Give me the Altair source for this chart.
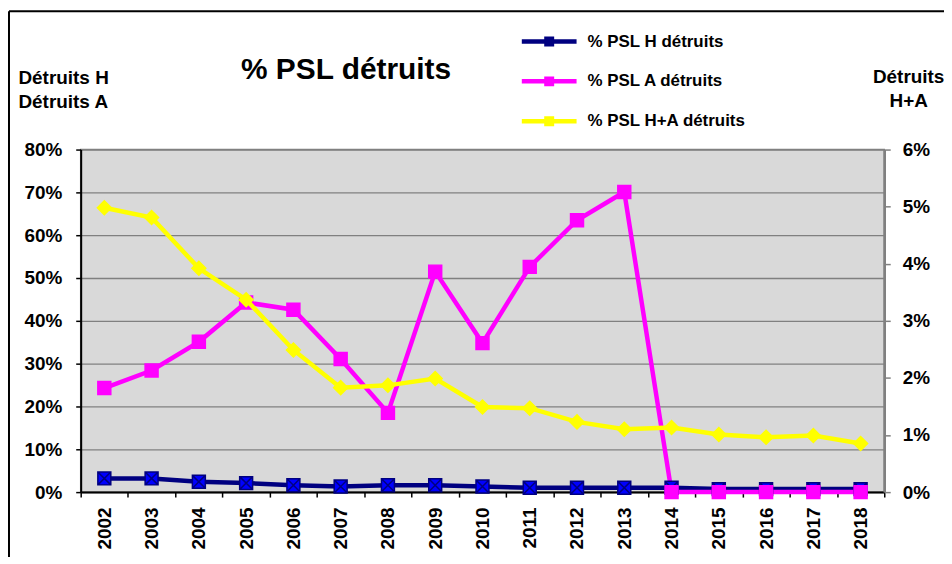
import altair as alt
import pandas as pd

# ---------------- data ----------------
years = list(range(2002, 2019))
series_names = ["% PSL H détruits", "% PSL A détruits", "% PSL H+A détruits"]

pct_h = [0.032, 0.032, 0.024, 0.021, 0.016, 0.013, 0.016, 0.016, 0.013,
         0.010, 0.010, 0.010, 0.010, 0.007, 0.007, 0.007, 0.007]
pct_a = [0.243, 0.284, 0.351, 0.443, 0.426, 0.311, 0.185, 0.515, 0.348,
         0.526, 0.635, 0.701, 0.0, 0.0, 0.0, 0.0, 0.0]
pct_ha = [0.0498, 0.0481, 0.0392, 0.0337, 0.0249, 0.0183, 0.0187, 0.0199, 0.0149,
          0.0147, 0.0123, 0.0110, 0.0113, 0.0101, 0.0096, 0.0099, 0.0085]

left_ticks = [0, 0.1, 0.2, 0.3, 0.4, 0.5, 0.6, 0.7, 0.8]
right_ticks = [0, 0.01, 0.02, 0.03, 0.04, 0.05, 0.06]

line_colors = ["#000080", "#FF00FF", "#FFFF00"]
marker_fills = ["#0000FF", "#FF00FF", "#FFFF00"]
marker_shapes = ["M-1,-1H1V1H-1Z M-1,-1L1,1 M1,-1L-1,1", "square", "diamond"]
marker_sizes = [169, 169, 196]

FONT = "Liberation Sans"
W, H = 807, 344

h_df = pd.DataFrame({"year": years, "series": series_names[0], "value": pct_h})
a_df = pd.DataFrame({"year": years, "series": series_names[1], "value": pct_a})
ha_df = pd.DataFrame({"year": years, "series": series_names[2], "value": pct_ha})
left_df = pd.concat([h_df, a_df], ignore_index=True)

# ---------------- encodings ----------------
x_enc = alt.X(
    "year:O", title=None, bandPosition=0.5,
    scale=alt.Scale(type="band", paddingInner=0, paddingOuter=0),
    axis=alt.Axis(tickBand="extent", labelAngle=-90, labelFont=FONT, labelFontSize=19,
                  labelFontWeight="bold", labelColor="black", labelPadding=10,
                  domainColor="black", domainWidth=2, tickColor="black", tickWidth=1.5,
                  tickSize=5, grid=False),
)

color_enc = alt.Color(
    "series:N", scale=alt.Scale(domain=series_names, range=line_colors),
    legend=alt.Legend(title=None, orient="none", legendX=462, legendY=-117,
                      direction="vertical",
                      symbolType="M-5,0L5,0M-0.5,-0.5L0.5,-0.5L0.5,0.5L-0.5,0.5Z",
                      symbolSize=121, symbolStrokeWidth=4.5, labelOffset=30, rowPadding=15,
                      padding=0, labelFont=FONT, labelFontSize=17, labelFontWeight="bold",
                      labelColor="black"),
)

y_left = alt.Y(
    "value:Q", scale=alt.Scale(domain=[0, 0.8], nice=False),
    axis=alt.Axis(values=left_ticks, format=".0%", title=["Détruits H", "Détruits A"],
                  titleAngle=0, titleAlign="left", titleBaseline="alphabetic",
                  titleX=-63, titleY=-66, titleLineHeight=23.3,
                  titleFont=FONT, titleFontSize=19, titleFontWeight="bold", titleColor="black",
                  grid=True, gridColor="#808080", gridWidth=1.3,
                  domainColor="black", domainWidth=2, tickColor="black", tickSize=5, tickWidth=1.5,
                  labelPadding=14, labelFont=FONT, labelFontSize=19, labelFontWeight="bold",
                  labelColor="black"),
)
y_right = alt.Y(
    "value:Q", scale=alt.Scale(domain=[0, 0.06], nice=False),
    axis=alt.Axis(values=right_ticks, format=".0%", orient="right", title=["Détruits", "H+A"],
                  titleAngle=0, titleAlign="center", titleBaseline="alphabetic",
                  titleX=24, titleY=-67, titleLineHeight=23.3,
                  titleFont=FONT, titleFontSize=19, titleFontWeight="bold", titleColor="black",
                  grid=False, domainColor="#808080", domainWidth=2.5, tickColor="#808080",
                  tickSize=6, tickWidth=1.5, labelPadding=12, labelFont=FONT, labelFontSize=19,
                  labelFontWeight="bold", labelColor="black"),
)


def markers(df, i, y_enc):
    return alt.Chart(df).mark_point(
        filled=True, shape=marker_shapes[i], size=marker_sizes[i], fill=marker_fills[i],
        stroke=line_colors[i], strokeWidth=1.5, opacity=1,
    ).encode(x=x_enc, y=y_enc)


# ---------------- layers ----------------
left_lines = alt.Chart(left_df).mark_line(strokeWidth=4.5).encode(x=x_enc, y=y_left, color=color_enc)
right_lines = alt.Chart(ha_df).mark_line(strokeWidth=4.5).encode(x=x_enc, y=y_right, color=color_enc)

one = pd.DataFrame({"k": [0]})
top_border = alt.Chart(one).mark_rule(color="black", strokeWidth=2).encode(
    x=alt.value(-72), x2=alt.value(W + 80), y=alt.value(-139))
left_border = alt.Chart(one).mark_rule(color="black", strokeWidth=2).encode(
    x=alt.value(-72), y=alt.value(-139), y2=alt.value(H + 80))

left_layer = alt.layer(left_lines, markers(h_df, 0, y_left), markers(a_df, 1, y_left))
right_layer = alt.layer(right_lines, markers(ha_df, 2, y_right))

chart = alt.layer(top_border, left_border, left_layer, right_layer).resolve_scale(
    y="independent"
).properties(
    width=W, height=H,
    autosize=alt.AutoSizeParams(type="none"),
    padding={"left": 73, "top": 141, "right": 60, "bottom": 64},
    title=alt.TitleParams("% PSL détruits", anchor="start", frame="group", orient="top",
                          dx=161, dy=99, offset=0, baseline="alphabetic", font=FONT,
                          fontSize=30, fontWeight="bold", color="black"),
    background="white",
).configure_view(fill="#D9D9D9", stroke="#808080", strokeWidth=1.5)

chart.save("out.html", embed_options={"renderer": "svg", "actions": False})
